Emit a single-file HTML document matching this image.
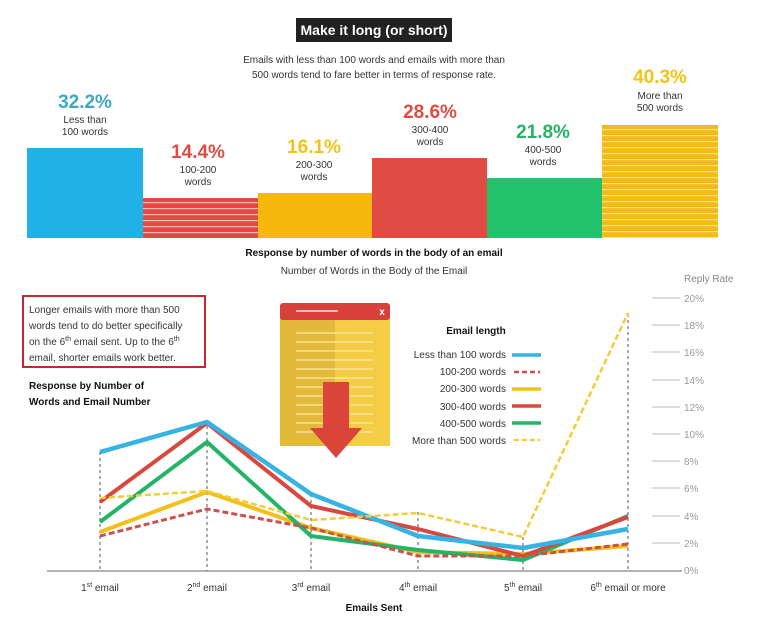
<!DOCTYPE html>
<html><head><meta charset="utf-8"><style>
html,body{margin:0;padding:0;background:#fff;}
svg{display:block;font-family:"Liberation Sans",sans-serif;}
</style></head><body>
<svg width="776" height="634" viewBox="0 0 776 634" xmlns="http://www.w3.org/2000/svg">
<defs>
<pattern id="sr" width="10" height="6" patternUnits="userSpaceOnUse" y="198"><rect width="10" height="6" fill="#e04c43"/><rect y="4" width="10" height="1.2" fill="#f6b8b0"/></pattern>
<pattern id="sy" width="10" height="6" patternUnits="userSpaceOnUse" y="125"><rect width="10" height="6" fill="#f4bb16"/><rect y="4" width="10" height="1.2" fill="#fbe08a"/></pattern>
</defs>
<rect x="296" y="18" width="156" height="24" fill="#222"/>
<text x="374" y="35" font-size="14" font-weight="bold" fill="#fff" text-anchor="middle">Make it long (or short)</text>
<text x="374" y="63" font-size="10" fill="#333" text-anchor="middle">Emails with less than 100 words and emails with more than</text>
<text x="374" y="78" font-size="10" fill="#333" text-anchor="middle">500 words tend to fare better in terms of response rate.</text>
<!-- bars -->
<rect x="27" y="148" width="116" height="90" fill="#22b1e6"/>
<rect x="143" y="198" width="115" height="40" fill="url(#sr)"/>
<rect x="258" y="193" width="114" height="45" fill="#f6b80d"/>
<rect x="372" y="158" width="115" height="80" fill="#e04c43"/>
<rect x="487" y="178" width="115" height="60" fill="#22c26c"/>
<rect x="602" y="125" width="116" height="113" fill="url(#sy)"/>
<g text-anchor="middle" font-size="10" fill="#333">
<text x="85" y="108" font-size="19" font-weight="bold" fill="#3aa9c9">32.2%</text>
<text x="85" y="123">Less than</text><text x="85" y="135">100 words</text>
<text x="198" y="158" font-size="19" font-weight="bold" fill="#e04c43">14.4%</text>
<text x="198" y="173">100-200</text><text x="198" y="185">words</text>
<text x="314" y="153" font-size="19" font-weight="bold" fill="#f2c314">16.1%</text>
<text x="314" y="168">200-300</text><text x="314" y="180">words</text>
<text x="430" y="118" font-size="19" font-weight="bold" fill="#e04c43">28.6%</text>
<text x="430" y="133">300-400</text><text x="430" y="145">words</text>
<text x="543" y="138" font-size="19" font-weight="bold" fill="#23b465">21.8%</text>
<text x="543" y="153">400-500</text><text x="543" y="165">words</text>
<text x="660" y="83" font-size="19" font-weight="bold" fill="#f2c314">40.3%</text>
<text x="660" y="99">More than</text><text x="660" y="111">500 words</text>
<text x="374" y="256" font-weight="bold" fill="#111">Response by number of words in the body of an email</text>
<text x="374" y="274">Number of Words in the Body of the Email</text>
</g>
<!-- red box -->
<rect x="23" y="296" width="182" height="71" fill="#fff" stroke="#c8262c" stroke-width="2"/>
<g font-size="10" fill="#333">
<text x="29" y="313">Longer emails with more than 500</text>
<text x="29" y="329">words tend to do better specifically</text>
<text x="29" y="345">on the 6<tspan font-size="7" dy="-4">th</tspan><tspan dy="4"> email sent. Up to the 6</tspan><tspan font-size="7" dy="-4">th</tspan></text>
<text x="29" y="361">email, shorter emails work better.</text>
<text x="29" y="389" font-weight="bold" fill="#111">Response by Number of</text>
<text x="29" y="405" font-weight="bold" fill="#111">Words and Email Number</text>
</g>
<!-- doc icon -->
<rect x="280" y="305" width="55" height="141" fill="#e2b93a"/>
<rect x="335" y="305" width="55" height="141" fill="#f4cc45"/>
<rect x="280" y="303" width="110" height="17" rx="3" fill="#d8403c"/>
<line x1="296" y1="311" x2="338" y2="311" stroke="#f3c0bd" stroke-width="2"/>
<text x="382" y="315" font-size="10" fill="#fff" text-anchor="middle" font-weight="bold">x</text>
<g stroke="#faeaa8" stroke-width="1.3">
<line x1="296" y1="333" x2="373" y2="333"/><line x1="296" y1="342" x2="373" y2="342"/><line x1="296" y1="351" x2="373" y2="351"/><line x1="296" y1="360" x2="373" y2="360"/><line x1="296" y1="369" x2="373" y2="369"/><line x1="296" y1="378" x2="373" y2="378"/><line x1="296" y1="387" x2="373" y2="387"/><line x1="296" y1="396" x2="373" y2="396"/><line x1="296" y1="405" x2="373" y2="405"/><line x1="296" y1="414" x2="373" y2="414"/><line x1="296" y1="423" x2="373" y2="423"/><line x1="296" y1="432" x2="373" y2="432"/>
</g>
<rect x="323" y="382" width="26" height="48" fill="#db4438"/>
<polygon points="310,428 362,428 336,458" fill="#db4438"/>
<!-- legend -->
<text x="476" y="334" font-size="10" font-weight="bold" fill="#111" text-anchor="middle">Email length</text>
<g font-size="10" fill="#333" text-anchor="end">
<text x="506" y="358">Less than 100 words</text>
<text x="506" y="375">100-200 words</text>
<text x="506" y="392">200-300 words</text>
<text x="506" y="410">300-400 words</text>
<text x="506" y="427">400-500 words</text>
<text x="506" y="444">More than 500 words</text>
</g>
<g stroke-width="3.5" fill="none">
<line x1="512" y1="355" x2="541" y2="355" stroke="#36b3e3"/>
<line x1="514" y1="372" x2="540" y2="372" stroke="#c9524e" stroke-dasharray="5,3" stroke-width="2.5"/>
<line x1="512" y1="389" x2="541" y2="389" stroke="#f3c01a"/>
<line x1="512" y1="406" x2="541" y2="406" stroke="#d9473f"/>
<line x1="512" y1="423" x2="541" y2="423" stroke="#23b467"/>
<line x1="514" y1="440" x2="540" y2="440" stroke="#f0cd3a" stroke-dasharray="5,3" stroke-width="2.5"/>
</g>
<!-- axis -->
<text x="684" y="282" font-size="10" fill="#888">Reply Rate</text>
<g stroke="#bbb" stroke-width="1">
<line x1="652" y1="298" x2="680" y2="298"/><line x1="652" y1="325" x2="680" y2="325"/><line x1="652" y1="352" x2="680" y2="352"/><line x1="652" y1="380" x2="680" y2="380"/><line x1="652" y1="407" x2="680" y2="407"/><line x1="652" y1="434" x2="680" y2="434"/><line x1="652" y1="461" x2="680" y2="461"/><line x1="652" y1="488" x2="680" y2="488"/><line x1="652" y1="516" x2="680" y2="516"/><line x1="652" y1="543" x2="680" y2="543"/>
</g>
<g font-size="10" fill="#999">
<text x="684" y="302">20%</text><text x="684" y="329">18%</text><text x="684" y="356">16%</text><text x="684" y="384">14%</text><text x="684" y="411">12%</text><text x="684" y="438">10%</text><text x="684" y="465">8%</text><text x="684" y="492">6%</text><text x="684" y="520">4%</text><text x="684" y="547">2%</text><text x="684" y="574">0%</text>
</g>
<line x1="47" y1="571" x2="682" y2="571" stroke="#999" stroke-width="1.5"/>
<g stroke="#555" stroke-width="1" stroke-dasharray="3,3">
<line x1="100" y1="452" x2="100" y2="571"/><line x1="207" y1="420" x2="207" y2="571"/><line x1="311" y1="494" x2="311" y2="571"/><line x1="418" y1="512" x2="418" y2="571"/><line x1="523" y1="537" x2="523" y2="571"/><line x1="628" y1="314" x2="628" y2="571"/>
</g>
<!-- series: y = 570 - pct*13.6 -->
<g fill="none" stroke-linejoin="round">
<polyline stroke="#f3c01a" stroke-width="4" points="100,532 207,492 311,528 418,552 523,554 628,546"/>
<polyline stroke="#23b467" stroke-width="4" points="100,522 207,442 311,536 418,550 523,560 628,516"/>
<polyline stroke="#d9473f" stroke-width="4" points="100,502 207,423 311,506 418,529 523,556 628,517"/>
<polyline stroke="#36b3e3" stroke-width="4.5" points="100,452 207,422 311,494 418,536 523,548 628,529"/>
<polyline stroke="#c9524e" stroke-width="3" stroke-dasharray="6,3" points="100,536 207,509 311,528 418,556 523,556 628,544"/>
<polyline stroke="#f0cd3a" stroke-width="2.5" stroke-dasharray="6,3" points="100,498 207,491 311,520 418,513 523,537 628,313"/>
</g>
<g font-size="10" fill="#333" text-anchor="middle">
<text x="100" y="591">1<tspan font-size="7" dy="-4">st</tspan><tspan dy="4"> email</tspan></text>
<text x="207" y="591">2<tspan font-size="7" dy="-4">nd</tspan><tspan dy="4"> email</tspan></text>
<text x="311" y="591">3<tspan font-size="7" dy="-4">rd</tspan><tspan dy="4"> email</tspan></text>
<text x="418" y="591">4<tspan font-size="7" dy="-4">th</tspan><tspan dy="4"> email</tspan></text>
<text x="523" y="591">5<tspan font-size="7" dy="-4">th</tspan><tspan dy="4"> email</tspan></text>
<text x="628" y="591">6<tspan font-size="7" dy="-4">th</tspan><tspan dy="4"> email or more</tspan></text>
<text x="374" y="611" font-weight="bold" fill="#111">Emails Sent</text>
</g>
</svg>
</body></html>
